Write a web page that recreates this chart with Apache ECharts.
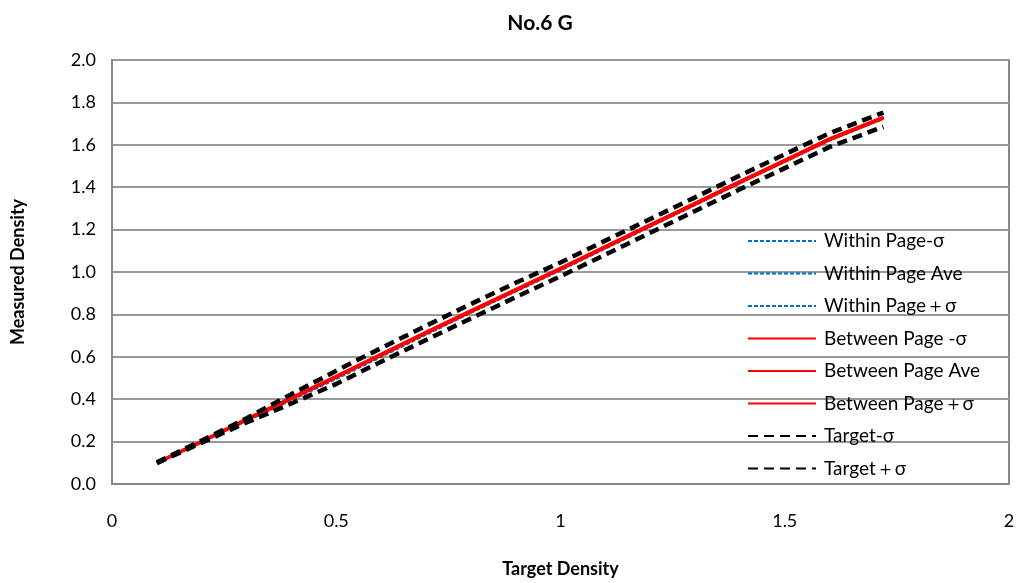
<!DOCTYPE html>
<html>
<head>
<meta charset="utf-8">
<script src="https://cdn.jsdelivr.net/npm/echarts@6/dist/echarts.min.js"></script>
<style>
  html, body { margin: 0; padding: 0; background: #fff; }
  #chart { width: 1019px; height: 583px; }
</style>
</head>
<body>
<div id="chart"></div>
<script>
// target densities (x)
const targetDensity = [0.1, 0.2, 0.3, 0.4, 0.5, 0.6, 0.7, 0.8, 0.9, 1.0, 1.1, 1.2, 1.3, 1.4, 1.5, 1.6, 1.72]

// within page (blue)
const withinMinus = [0.099, 0.197, 0.296, 0.393, 0.494, 0.598, 0.702, 0.806, 0.906, 1.006, 1.109, 1.212, 1.314, 1.417, 1.518, 1.619, 1.722]
const withinAve = [0.1, 0.199, 0.302, 0.401, 0.502, 0.606, 0.709, 0.812, 0.912, 1.012, 1.115, 1.218, 1.32, 1.423, 1.524, 1.625, 1.728]
const withinPlus = [0.101, 0.201, 0.306, 0.407, 0.508, 0.612, 0.714, 0.817, 0.917, 1.017, 1.12, 1.223, 1.325, 1.428, 1.529, 1.63, 1.733]

// between page (red)
const betweenMinus = [0.099, 0.198, 0.301, 0.401, 0.503, 0.607, 0.71, 0.812, 0.912, 1.012, 1.115, 1.217, 1.319, 1.421, 1.522, 1.623, 1.725]
const betweenAve = [0.1, 0.2, 0.304, 0.404, 0.506, 0.61, 0.713, 0.815, 0.915, 1.015, 1.118, 1.22, 1.322, 1.424, 1.525, 1.626, 1.728]
const betweenPlus = [0.101, 0.202, 0.307, 0.407, 0.509, 0.613, 0.716, 0.818, 0.918, 1.018, 1.121, 1.223, 1.325, 1.427, 1.528, 1.629, 1.731]

// target ± sigma (black)
const targetMinus = [0.098, 0.195, 0.29, 0.38, 0.472, 0.577, 0.679, 0.781, 0.881, 0.98, 1.082, 1.185, 1.288, 1.39, 1.49, 1.59, 1.685]
const targetPlus = [0.102, 0.205, 0.31, 0.424, 0.534, 0.641, 0.746, 0.849, 0.949, 1.045, 1.148, 1.25, 1.352, 1.455, 1.555, 1.655, 1.752]

const FONT = 'Lato'

function pairs (ys) {
  return targetDensity.map((x, i) => [x, ys[i]])
}

function mkSeries (name, ys, color, width, type) {
  return {
    name: name,
    type: 'line',
    data: pairs(ys),
    symbol: 'none',
    showSymbol: false,
    lineStyle: { color: color, width: width, type: type },
    itemStyle: { color: color },
    emphasis: { disabled: true },
    animation: false
  }
}

const chart = echarts.init(document.getElementById('chart'))
chart.setOption({
  animation: false,
  textStyle: { fontFamily: FONT },
  title: {
    text: 'No.6 G',
    left: 535,
    textAlign: 'center',
    top: 8,
    textStyle: { fontFamily: FONT, fontSize: 21, fontWeight: 'bold', color: '#000' }
  },
  grid: {
    left: 112,
    top: 60,
    right: 10,
    bottom: 98,
    show: true,
    borderColor: '#888',
    borderWidth: 2
  },
  legend: {
    orient: 'vertical',
    left: 742,
    top: 226,
    itemWidth: 68,
    itemHeight: 14,
    itemGap: 12.5,
    itemStyle: { opacity: 0 },
    textStyle: { fontFamily: FONT, fontSize: 19, lineHeight: 20, color: '#000', padding: [0, 0, 0, 3] },
    data: [
      'Within Page-σ', 'Within Page Ave', 'Within Page＋σ',
      'Between Page -σ', 'Between Page Ave', 'Between Page＋σ',
      'Target-σ', 'Target＋σ'
    ]
  },
  xAxis: {
    type: 'value',
    min: 0,
    max: 2,
    interval: 0.5,
    name: 'Target Density',
    nameLocation: 'middle',
    nameGap: 76,
    nameTextStyle: { fontFamily: FONT, fontSize: 18, fontWeight: 'bold', color: '#000' },
    axisLine: { show: true, lineStyle: { color: '#888', width: 2 } },
    axisTick: { show: false },
    splitLine: { show: false },
    axisLabel: { margin: 28, fontSize: 18, color: '#000', fontFamily: FONT }
  },
  yAxis: {
    type: 'value',
    min: 0,
    max: 2,
    interval: 0.2,
    name: 'Measured Density',
    nameLocation: 'middle',
    nameGap: 85,
    nameTextStyle: { fontFamily: FONT, fontSize: 18, fontWeight: 'bold', color: '#000' },
    axisLine: { show: true, lineStyle: { color: '#888', width: 2 } },
    axisTick: { show: false },
    splitLine: { show: true, lineStyle: { color: '#999', width: 2 } },
    axisLabel: {
      margin: 16,
      fontSize: 18,
      color: '#000',
      fontFamily: FONT,
      formatter: v => v.toFixed(1)
    }
  },
  series: [
    mkSeries('Within Page-σ', withinMinus, '#0070C0', 1.5, [4, 2]),
    mkSeries('Within Page Ave', withinAve, '#0070C0', 1.5, [4, 2]),
    mkSeries('Within Page＋σ', withinPlus, '#0070C0', 1.5, [4, 2]),
    mkSeries('Between Page -σ', betweenMinus, '#FF0000', 3, 'solid'),
    mkSeries('Between Page Ave', betweenAve, '#FF0000', 3, 'solid'),
    mkSeries('Between Page＋σ', betweenPlus, '#FF0000', 3, 'solid'),
    mkSeries('Target-σ', targetMinus, '#000000', 4.5, [10, 6]),
    mkSeries('Target＋σ', targetPlus, '#000000', 4.5, [10, 6])
  ]
})
</script>
</body>
</html>
